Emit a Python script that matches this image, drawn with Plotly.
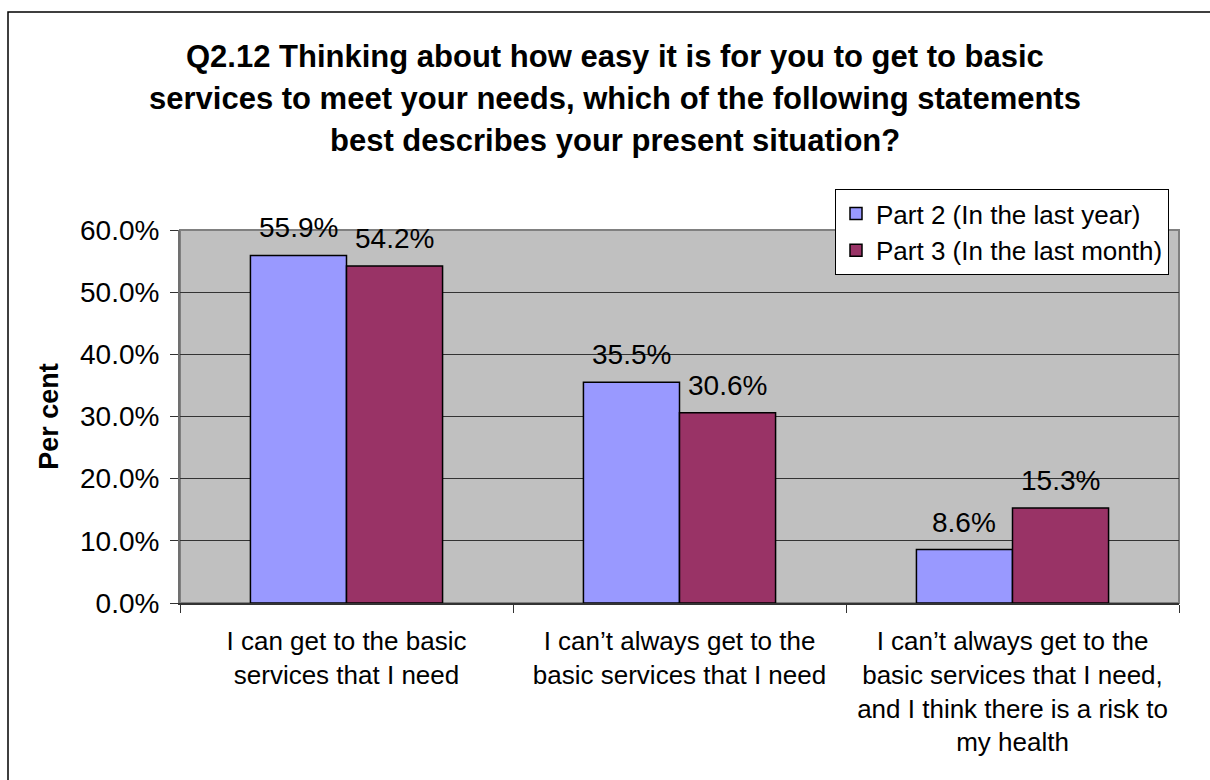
import plotly.graph_objects as go

# Survey responses (share of respondents)
categories = [
    "I can get to the basic<br>services that I need",
    "I can\u2019t always get to the<br>basic services that I need",
    "I can\u2019t always get to the<br>basic services that I need,<br>and I think there is a risk to<br>my health",
]
part2_values = [0.559, 0.355, 0.086]
part3_values = [0.542, 0.306, 0.153]
series_names = ["Part 2 (In the last year)", "Part 3 (In the last month)"]
title_lines = [
    "Q2.12 Thinking about how easy it is for you to get to basic",
    "services to meet your needs, which of the following statements",
    "best describes your present situation?",
]
y_tick_values = [0.0, 0.1, 0.2, 0.3, 0.4, 0.5, 0.6]

W, H = 1210, 780
ML, MR, MT, MB = 180, 31, 230, 177
PW, PH = W - ML - MR, H - MT - MB
BARGAP = 0.423
FONT = "Liberation Sans, Arial, sans-serif"


def px_x(px):
    return (px - ML) / PW


def px_y(py):
    return (H - MB - py) / PH


fig = go.Figure()
fig.add_bar(
    x=categories, y=part2_values, name=series_names[0],
    marker=dict(color="#9999FF", line=dict(color="#000000", width=1.5)),
)
fig.add_bar(
    x=categories, y=part3_values, name=series_names[1],
    marker=dict(color="#993366", line=dict(color="#000000", width=1.5)),
)

annotations = []
# value labels above each bar
bar_w = PW / len(categories) * (1 - BARGAP) / 2
for vals, shift in ((part2_values, -bar_w / 2), (part3_values, bar_w / 2)):
    for cat, v in zip(categories, vals):
        annotations.append(dict(
            x=cat, y=v, xref="x", yref="y", xshift=shift, yshift=10,
            text=f"{v * 100:.1f}%", showarrow=False, yanchor="bottom",
            font=dict(family=FONT, size=28, color="#000000"),
        ))

# chart title, one line per annotation for Excel-like spacing
for i, line in enumerate(title_lines):
    annotations.append(dict(
        x=px_x(615), y=px_y(57 + i * 41.5), xref="paper", yref="paper",
        text=f"<b>{line}</b>", showarrow=False, yanchor="middle", xanchor="center",
        font=dict(family=FONT, size=31, color="#000000"),
    ))

shapes = [
    # outer chart border
    dict(type="rect", xref="paper", yref="paper",
         x0=px_x(8), y0=px_y(800), x1=px_x(1230), y1=px_y(12),
         line=dict(color="#000000", width=1.5), fillcolor="rgba(0,0,0,0)", layer="below"),
    # plot area border
    dict(type="rect", xref="paper", yref="paper", x0=0, y0=0, x1=1, y1=1,
         line=dict(color="#808080", width=2), fillcolor="rgba(0,0,0,0)", layer="below"),
]

fig.update_layout(
    width=W, height=H,
    margin=dict(l=ML, r=MR, t=MT, b=MB, autoexpand=False),
    paper_bgcolor="#FFFFFF", plot_bgcolor="#C0C0C0",
    barmode="group", bargap=BARGAP, bargroupgap=0,
    font=dict(family=FONT, size=26, color="#000000"),
    showlegend=True,
    legend=dict(
        x=px_x(835), y=px_y(189), xanchor="left", yanchor="top",
        bgcolor="#FFFFFF", bordercolor="#000000", borderwidth=1,
        font=dict(family=FONT, size=26, color="#000000"),
        itemwidth=30, tracegroupgap=0,
    ),
    annotations=annotations,
    shapes=shapes,
)

fig.update_xaxes(
    type="category", showgrid=False, zeroline=False,
    showline=True, linecolor="#333333", linewidth=1.5,
    ticks="outside", tickson="boundaries", ticklen=8, tickcolor="#333333",
    tickfont=dict(family=FONT, size=26, color="#000000"),
    ticklabelstandoff=14,
)
fig.update_yaxes(
    range=[0, 0.6], tickvals=y_tick_values, tickformat=".1%",
    showgrid=True, gridcolor="#333333", gridwidth=1, zeroline=False,
    showline=True, linecolor="#707070", linewidth=2,
    ticks="outside", ticklen=8, tickcolor="#333333",
    tickfont=dict(family=FONT, size=28, color="#000000"),
    ticklabelstandoff=5,
    title=dict(text="<b>Per cent</b>", font=dict(family=FONT, size=27, color="#000000"), standoff=14),
)

fig.write_html("out.html")
